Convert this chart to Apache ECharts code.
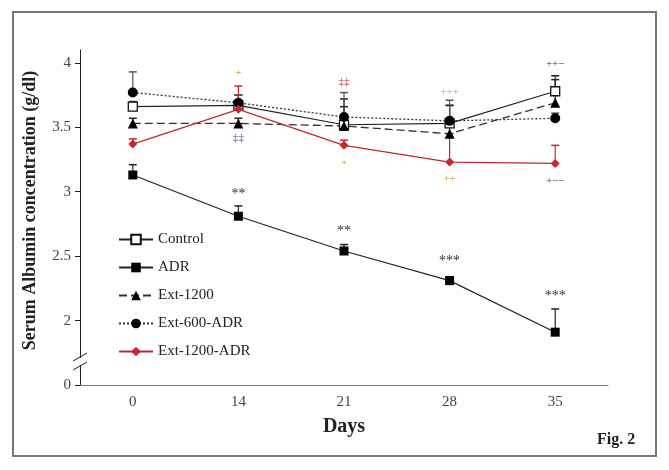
<!DOCTYPE html>
<html><head><meta charset="utf-8">
<script src="https://cdn.jsdelivr.net/npm/echarts@6/dist/echarts.min.js"></script>
<style>html,body{margin:0;padding:0;background:#fff}#c{width:669px;height:470px}</style>
</head><body><div id="c"></div>
<script>
const days = ['0', '14', '21', '28', '35'];
const yTickValues = [1.5, 2, 2.5, 3, 3.5, 4];
const yTickLabels = ['0', '2', '2.5', '3', '3.5', '4'];

const controlVals = [3.66, 3.67, 3.52, 3.53, 3.78];
const controlErr  = [0.04, 0.08, 0.20, 0.14, 0.12];
const adrVals     = [3.13, 2.81, 2.54, 2.31, 1.91];
const adrErr      = [0.08, 0.08, 0.05, 0.03, 0.18];
const ext1200Vals = [3.53, 3.53, 3.51, 3.45, 3.69];
const ext1200Err  = [0.04, 0.04, 0.15, 0.22, 0.18];
const ext600AdrVals = [3.77, 3.69, 3.58, 3.55, 3.57];
const ext600AdrErr  = [0.16, 0.06, 0.19, 0.16, 0.04];
const ext1200AdrVals = [3.37, 3.64, 3.36, 3.23, 3.22];
const ext1200AdrErr  = [0.04, 0.18, 0.04, 0.22, 0.14];

// significance marks: [day index, y value, text, colour, font size]
const sigMarks = [
  [1, 2.98, '**', '#333', 14],
  [2, 2.69, '**', '#333', 14],
  [3, 2.46, '***', '#333', 14],
  [4, 2.19, '***', '#333', 14],
  [1, 3.92, '+', '#b07a30', 11],
  [1, 3.42, '\u2021\u2021', '#3a3a8a', 11],
  [2, 3.85, '\u2021\u2021', '#b03030', 11],
  [2, 3.22, '+', '#c09050', 11],
  [3, 3.77, '+++', '#9aa0a8', 11],
  [3, 3.10, '++', '#c09050', 11],
  [4, 3.99, '++\u2212', '#2a3060', 11],
  [4, 3.08, '+\u2212\u2212', '#2a3060', 11]
];

const serif = '"Liberation Serif", "DejaVu Serif", serif';
const RED = '#c3282c';

function errData(vals, errs) { return vals.map((v, i) => [i, v, errs[i]]); }
function errSeries(vals, errs, color) {
  return {
    type: 'custom', silent: true, z: 1,
    data: errData(vals, errs),
    renderItem: function (params, api) {
      const x = api.value(0), v = api.value(1), e = api.value(2);
      const p0 = api.coord([x, v]);
      const p1 = api.coord([x, v + e]);
      const w = 4;
      return {
        type: 'group',
        children: [
          { type: 'line', shape: { x1: p0[0], y1: p0[1], x2: p1[0], y2: p1[1] }, style: { stroke: color, lineWidth: 1.2 } },
          { type: 'line', shape: { x1: p1[0] - w, y1: p1[1], x2: p1[0] + w, y2: p1[1] }, style: { stroke: color, lineWidth: 1.5 } }
        ]
      };
    }
  };
}

const chart = echarts.init(document.getElementById('c'));
chart.setOption({
  animation: false,
  backgroundColor: '#fff',
  textStyle: { fontFamily: serif },
  grid: { left: 80, right: 61, top: 50, bottom: 85 },
  legend: {
    data: ['Control', 'ADR', 'Ext-1200', 'Ext-600-ADR', 'Ext-1200-ADR'],
    orient: 'vertical', left: 113, top: 227,
    itemWidth: 34, itemHeight: 12, itemGap: 13,
    textStyle: { fontFamily: serif, fontSize: 15, color: '#222' }
  },
  xAxis: {
    type: 'category', data: days,
    boundaryGap: true,
    axisLine: { lineStyle: { color: '#777', width: 1 } },
    axisTick: { alignWithLabel: true, length: 3, lineStyle: { color: '#777' } },
    axisLabel: { fontFamily: serif, fontSize: 15, color: '#444', margin: 10 },
    name: 'Days', nameLocation: 'middle', nameGap: 32,
    nameTextStyle: { fontFamily: serif, fontSize: 20, fontWeight: 'bold', color: '#222' }
  },
  yAxis: {
    type: 'value', min: 1.5, max: 4.1, interval: 0.5,
    splitLine: { show: false },
    axisLine: { show: true, lineStyle: { color: '#222', width: 1 } },
    axisTick: { show: true, length: 5, customValues: yTickValues, lineStyle: { color: '#222' } },
    axisLabel: {
      fontFamily: serif, fontSize: 15, color: '#444', margin: 9,
      customValues: yTickValues,
      formatter: function (v) { const i = yTickValues.indexOf(v); return i >= 0 ? yTickLabels[i] : ''; }
    },
    name: 'Serum Albumin concentration (g/dl)', nameLocation: 'middle', nameGap: 41,
    nameTextStyle: { fontFamily: serif, fontSize: 18, fontWeight: 'bold', color: '#222', padding: [0, 0, 0, 14] }
  },
  graphic: [
    { type: 'rect', shape: { x: 13, y: 12, width: 643, height: 444 }, style: { fill: 'none', stroke: '#777', lineWidth: 2 }, z: -1 },
    { type: 'line', shape: { x1: 73, y1: 361, x2: 87, y2: 353 }, style: { stroke: '#222', lineWidth: 1 }, z: 10 },
    { type: 'line', shape: { x1: 73, y1: 370, x2: 87, y2: 362 }, style: { stroke: '#222', lineWidth: 1 }, z: 10 },
    { type: 'rect', shape: { x: 78, y: 358, width: 4, height: 7 }, style: { fill: '#fff' }, z: 9 },
    { type: 'text', left: 597, top: 432, style: { text: 'Fig. 2', font: 'bold 16px ' + serif, fill: '#222' } }
  ],
  series: [
    errSeries(controlVals, controlErr, '#222'),
    errSeries(adrVals, adrErr, '#222'),
    errSeries(ext1200Vals, ext1200Err, '#222'),
    errSeries(ext600AdrVals, ext600AdrErr, '#555'),
    errSeries(ext1200AdrVals, ext1200AdrErr, RED),
    {
      name: 'Control', type: 'line', data: controlVals, z: 5,
      symbol: 'rect', symbolSize: 9,
      lineStyle: { color: '#222', width: 1.2, type: 'solid' },
      itemStyle: { color: '#fff', borderColor: '#111', borderWidth: 1.3 }
    },
    {
      name: 'ADR', type: 'line', data: adrVals, z: 5,
      symbol: 'rect', symbolSize: 9,
      lineStyle: { color: '#222', width: 1.2, type: 'solid' },
      itemStyle: { color: '#000' }
    },
    {
      name: 'Ext-1200', type: 'line', data: ext1200Vals, z: 5,
      symbol: 'triangle', symbolSize: 10,
      lineStyle: { color: '#333', width: 1.3, type: [8, 4] },
      itemStyle: { color: '#000' }
    },
    {
      name: 'Ext-600-ADR', type: 'line', data: ext600AdrVals, z: 5,
      symbol: 'circle', symbolSize: 10,
      lineStyle: { color: '#333', width: 1.3, type: [2, 2] },
      itemStyle: { color: '#000' }
    },
    {
      name: 'Ext-1200-ADR', type: 'line', data: ext1200AdrVals, z: 6,
      symbol: 'diamond', symbolSize: 9,
      lineStyle: { color: RED, width: 1.3 },
      itemStyle: { color: RED }
    },
    {
      type: 'custom', silent: true, z: 7,
      data: sigMarks,
      renderItem: function (params, api) {
        const d = sigMarks[params.dataIndex];
        const p = api.coord([d[0], d[1]]);
        return {
          type: 'text',
          style: { text: d[2], x: p[0], y: p[1], align: 'center', verticalAlign: 'middle', font: d[4] + 'px ' + serif, fill: d[3] }
        };
      }
    }
  ]
});
</script>
</body></html>
